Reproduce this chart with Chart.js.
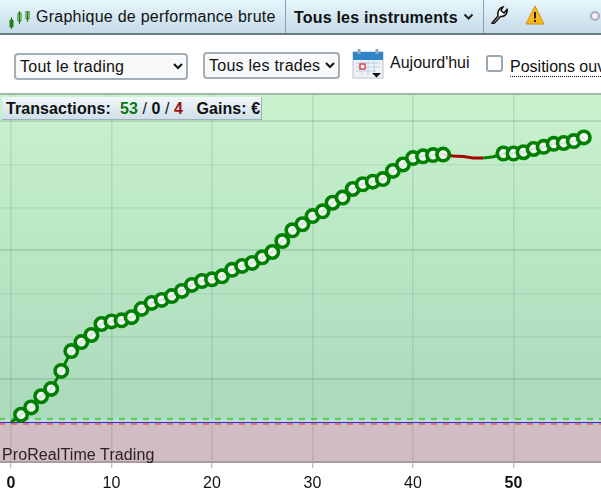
<!DOCTYPE html>
<html lang="fr"><head><meta charset="utf-8">
<script src="https://cdn.jsdelivr.net/npm/chart.js@4"></script>
<style>
html,body{margin:0;padding:0;background:#fff;width:601px;height:493px;overflow:hidden;font-family:"Liberation Sans",Arial,sans-serif;color:#111}
.abs{position:absolute;white-space:nowrap}
#bar{left:0;top:0;width:601px;height:33px;background:linear-gradient(#e6f6fc,#c6dbe8);border-bottom:2px solid #6c7c84}
.sep{top:0;width:1px;height:33px;background:#8fa0aa}
select{position:absolute;font:16px "Liberation Sans",Arial,sans-serif;letter-spacing:.25px;color:#111;background:#f8f9fa;border:2px solid #a3aeb6;border-radius:4px;height:27px;padding:0}
#cv{position:absolute;left:0;top:95px;width:601px;height:398px}
#stat{left:2px;top:97px;width:259px;height:22px;background:linear-gradient(#f2f8fb,#cfdfe9);border-right:1px solid #9fb0ba;border-bottom:1px solid #9fb0ba;font:bold 16px "Liberation Sans",Arial,sans-serif;letter-spacing:.07px;line-height:23px;z-index:2}
</style></head><body>
<div id="bar" class="abs"></div>
<svg class="abs" style="left:8px;top:11px" width="22" height="18" viewBox="0 0 22 18"><g fill="#7aa52a" stroke="#1f7a10" stroke-width="1"><path d="M2 9h3v7H2z" fill="#2c8a12"/><path d="M10 2h3v8h-3z" fill="#e8f2d8"/><path d="M18 -1h3v9h-3z" fill="#e8f2d8"/></g><path d="M3.500 6v12M11.500 0v13M19.500 -3v14" stroke="#1f7a10" stroke-width="1"/></svg>
<div class="abs" style="left:36px;top:8px;font-size:16px;letter-spacing:.25px">Graphique de performance brute</div>
<div class="abs sep" style="left:285px"></div>
<div class="abs" style="left:294px;top:9px;font-size:16px;font-weight:bold;letter-spacing:.2px">Tous les instruments</div>
<svg class="abs" style="left:463px;top:13px" width="12" height="8"><path d="M1.500 1.500L5.500 5.500L9.500 1.500" fill="none" stroke="#222" stroke-width="2"/></svg>
<div class="abs sep" style="left:483px"></div>
<svg class="abs" style="left:489px;top:5px" width="20" height="20" viewBox="0 0 20 20"><path d="M3 18L9 11C8 7 10 3 14 2L12 5.500L15 8L18 4.500C19 9 15 12 11.500 11.500L5 18.500Z" fill="#fff" stroke="#111" stroke-width="1.500"/></svg>
<svg class="abs" style="left:525px;top:5px" width="20" height="20" viewBox="0 0 20 20"><path d="M10 1L19 19H1Z" fill="#f6b91c" stroke="#d98a10"/><path d="M10 7v6.500M10 15v2" stroke="#222" stroke-width="2"/></svg>
<svg class="abs" style="left:589px;top:10px" width="12" height="12"><circle cx="6" cy="6" r="4" fill="#eef" stroke="#a8b0b8" stroke-width="2"/></svg>
<select style="left:14px;top:53px;width:174px"><option>Tout le trading</option></select>
<select style="left:203px;top:52px;width:137px"><option>Tous les trades</option></select>
<svg class="abs" style="left:352px;top:49px" width="32" height="30" viewBox="0 0 32 30"><rect x="1" y="3" width="30" height="26" fill="#eef3f8" stroke="#b8c4cc"/><rect x="1" y="3" width="30" height="8" fill="#2e86c8"/><path d="M7 0v5M25 0v5" stroke="#9aa6ae" stroke-width="3"/><path d="M4 14h24M4 18h24M4 22h20M10 12v14M16 12v14M22 12v14" stroke="#b8d0e4"/><rect x="8" y="15" width="5" height="5" fill="#fff" stroke="#e04050" stroke-width="1.500"/><path d="M20 24h9l-4.500 4.500z" fill="#111"/></svg>
<div class="abs" style="left:390px;top:54px;font-size:16px">Aujourd'hui</div>
<div class="abs" style="left:486px;top:55px;width:13px;height:13px;border:2px solid #9ba6ae;border-radius:3px"></div>
<div class="abs" style="left:510px;top:58px;font-size:16px;border-bottom:1px dotted #111;line-height:18px">Positions ouvertes</div>
<div class="abs" style="left:0;top:93px;width:601px;height:2px;background:#a0b6aa"></div>
<canvas id="cv" width="601" height="398"></canvas>
<div id="stat" class="abs"><span style="margin-left:4px">Transactions:</span>&nbsp; <span style="color:#0a7a10">53</span> <span style="font-weight:normal">/</span> 0 <span style="font-weight:normal">/</span> <span style="color:#a01010">4</span> &nbsp; Gains: €</div>
<div class="abs" style="left:2px;top:446px;font-size:16px;letter-spacing:.1px;color:#2a2028;z-index:2">ProRealTime Trading</div>
<script>
// Cumulative gain after each trade (trade number = position in the list)
const equity = [0,180,350,610,780,1200,1660,1870,2035,2290,2350,2375,2450,2640,2780,2850,2940,3060,3200,3290,3330,3400,3550,3640,3710,3840,3965,4220,4470,4610,4800,4910,5110,5230,5430,5540,5600,5660,5850,6000,6150,6190,6220,6230,6195,6185,6150,6150,6180,6255,6255,6285,6360,6410,6480,6500,6545,6630];
// Trades drawn without a marker: the four losses and the win between them and the next ring
const losingTrades = [44,45,46,47];
const unmarkedTrades = [0,44,45,46,47,48];
const xTickLabels = [0,10,20,30,40,50];
const boldXTicks = [0,50];
const xRange = [-1.095,58.71];
const yRange = [-919,7616];
const yStep = 1000;
const strongYLines = [1000,4000,7000];
const winLevel = [80,80];
const zeroLevel = [0,0];
const lossLevel = [-25,-25];

const points = equity.map((v,i)=>({x:i,y:v}));
const level = (arr)=>arr.map((v,i)=>({x:xRange[i],y:v}));
const GREEN='#008000', RED='#a80000';

const backdrop={id:'backdrop',beforeDraw(c){
  const {ctx,chartArea:a,scales:{y}}=c;
  const y0=y.getPixelForValue(0), yw=y.getPixelForValue(winLevel[0]);
  const g=ctx.createLinearGradient(0,a.top,0,yw);
  g.addColorStop(0,'#c9f2cd');g.addColorStop(1,'#aad9bb');
  ctx.save();
  ctx.fillStyle=g;ctx.fillRect(a.left,a.top,a.width,yw-a.top);
  ctx.fillStyle='#c9dbe2';ctx.fillRect(a.left,yw,a.width,y0-yw);
  ctx.fillStyle='#d1bcc3';ctx.fillRect(a.left,y0,a.width,a.bottom-y0);
  ctx.strokeStyle='#ab9aa2';ctx.lineWidth=2;ctx.beginPath();ctx.moveTo(a.left,a.bottom);ctx.lineTo(a.right,a.bottom);ctx.stroke();
  ctx.restore();
}};

new Chart(document.getElementById('cv'),{
  type:'line',
  data:{datasets:[
    {data:points,order:0,borderColor:GREEN,borderWidth:3,tension:0,
     segment:{borderColor:s=>losingTrades.includes(s.p1DataIndex)?RED:GREEN},
     pointRadius:c=>unmarkedTrades.includes(c.dataIndex)?0:6.2,
     pointBorderWidth:3.6,pointBorderColor:GREEN,pointBackgroundColor:'rgba(255,255,255,.85)'},
    {data:level(zeroLevel),order:1,borderColor:'#2232e0',borderWidth:1,pointRadius:0},
    {data:level(lossLevel),order:2,borderColor:'#e0705f',borderWidth:2.5,borderDash:[6,6],borderDashOffset:1,pointRadius:0},
    {data:level(winLevel),order:3,borderColor:'#52d052',borderWidth:2,borderDash:[6,6],borderDashOffset:1,pointRadius:0}
  ]},
  plugins:[backdrop],
  options:{
    responsive:false,animation:false,devicePixelRatio:1,
    layout:{padding:0,autoPadding:false},
    plugins:{legend:{display:false},tooltip:{enabled:false}},
    scales:{
      x:{type:'linear',min:xRange[0],max:xRange[1],
        afterFit(s){s.height=31;s.paddingLeft=0;s.paddingRight=0},
        afterBuildTicks(s){s.ticks=xTickLabels.map(v=>({value:v}))},
        border:{display:false},
        grid:{color:'rgba(70,120,95,.16)',lineWidth:1.5,tickLength:6,tickColor:'#a4aeb4',tickWidth:1},
        ticks:{autoSkip:false,maxRotation:0,padding:6,color:'#111',
          font:c=>({family:'"Liberation Sans",Arial,sans-serif',size:16,weight:boldXTicks.includes(c.tick&&c.tick.value)?'bold':'normal'})}},
      y:{min:yRange[0],max:yRange[1],
        afterFit(s){s.width=0;s.paddingTop=0;s.paddingBottom=0},
        afterBuildTicks(s){const t=[];for(let v=0;v<=yRange[1];v+=yStep)t.push({value:v});s.ticks=t},
        border:{display:false},
        grid:{drawTicks:false,color:c=>strongYLines.includes(c.tick&&c.tick.value)?'rgba(70,120,95,.2)':'rgba(70,120,95,.12)',lineWidth:c=>strongYLines.includes(c.tick&&c.tick.value)?2:1.5},
        ticks:{display:false}}
    }
  }
});
</script>
</body></html>
